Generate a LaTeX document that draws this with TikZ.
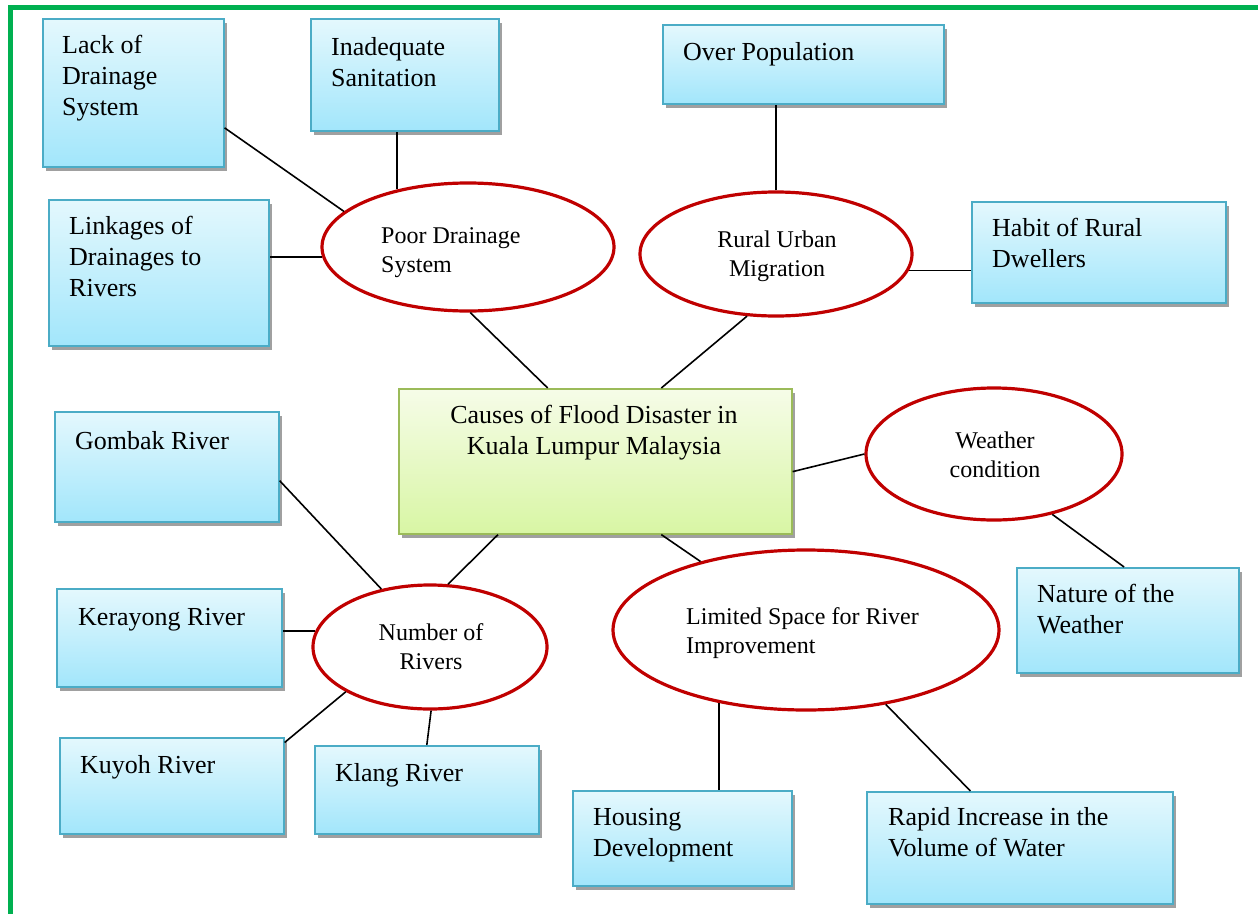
\documentclass[tikz,border=0pt]{standalone}
\usepackage{fontspec}
\setmainfont{Liberation Serif}
\usetikzlibrary{shapes.geometric,shadows,calc}
\definecolor{frameg}{HTML}{00B050}
\definecolor{boxline}{HTML}{4BACC6}
\definecolor{boxtop}{HTML}{E4F8FD}
\definecolor{boxbot}{HTML}{A2E6FB}
\definecolor{ctop}{HTML}{F6FCE8}
\definecolor{cbot}{HTML}{D8F6A4}
\definecolor{cline}{HTML}{9BBB59}
\definecolor{shadowgray}{HTML}{A0A0A0}
\definecolor{ellred}{HTML}{C00000}
\begin{document}
\begin{tikzpicture}[x=1pt,y=-1pt,
  box/.style={rectangle, draw=boxline, line width=1.6pt, top color=boxtop, bottom color=boxbot,
    inner sep=0pt, anchor=north west,
    drop shadow={shadow xshift=3pt, shadow yshift=-4pt, fill=shadowgray, opacity=1}},
  cbox/.style={box, draw=cline, top color=ctop, bottom color=cbot},
  btext/.style={anchor=base west, align=left, inner sep=0pt, font=\fontsize{26}{31}\selectfont},
  ctext/.style={anchor=base, align=center, inner sep=0pt, font=\fontsize{26}{31}\selectfont},
  ell/.style={ellipse, draw=ellred, line width=3.2pt, fill=white, inner sep=0pt},
  etext/.style={anchor=base west, align=left, inner sep=0pt, font=\fontsize{24}{29}\selectfont},
  ectext/.style={anchor=base, align=center, inner sep=0pt, font=\fontsize{24}{29}\selectfont},
  conn/.style={draw=black, line width=1.6pt}
]
\useasboundingbox (0,0) rectangle (1258,913);
\fill[white] (0,0) rectangle (1258,913);
\draw[frameg, line width=5pt] (10,7.5) rectangle (1260,960);

% boxes (text nodes anchored at the baseline of their last line)
\node[box, minimum width=181pt, minimum height=148pt] (b1) at (42,18) {};
\node[btext] (t1) at (62,115) {Lack of\\Drainage\\System};
\node[box, minimum width=188pt, minimum height=112pt] (b2) at (310,18) {};
\node[btext] (t2) at (331,86) {Inadequate\\Sanitation};
\node[box, minimum width=281pt, minimum height=79pt] (b3) at (662,24) {};
\node[btext] (t3) at (683,60) {Over Population};
\node[box, minimum width=220pt, minimum height=146pt] (b4) at (48,199) {};
\node[btext] (t4) at (69,296) {Linkages of\\Drainages to\\Rivers};
\node[box, minimum width=254pt, minimum height=101pt] (b5) at (971,201) {};
\node[btext] (t5) at (992,267) {Habit of Rural\\Dwellers};
\node[cbox, minimum width=393pt, minimum height=145pt] (b6) at (398,388) {};
\node[ctext] (t6) at (594,454) {Causes of Flood Disaster in\\Kuala Lumpur Malaysia};
\node[box, minimum width=224pt, minimum height=110pt] (b7) at (54,411) {};
\node[btext] (t7) at (75,449) {Gombak River};
\node[box, minimum width=225pt, minimum height=98pt] (b8) at (56,588) {};
\node[btext] (t8) at (78,625) {Kerayong River};
\node[box, minimum width=224pt, minimum height=96pt] (b9) at (59,737) {};
\node[btext] (t9) at (80,773) {Kuyoh River};
\node[box, minimum width=224pt, minimum height=88pt] (b10) at (314,745) {};
\node[btext] (t10) at (335,781) {Klang River};
\node[box, minimum width=222pt, minimum height=105pt] (b11) at (1016,567) {};
\node[btext] (t11) at (1037,633) {Nature of the\\Weather};
\node[box, minimum width=219pt, minimum height=95pt] (b12) at (572,790) {};
\node[btext] (t12) at (593,856) {Housing\\Development};
\node[box, minimum width=306pt, minimum height=112pt] (b13) at (866,791) {};
\node[btext] (t13) at (888,856) {Rapid Increase in the\\Volume of Water};

% ellipses
\node[ell, minimum width=292pt, minimum height=128pt] (e1) at (468,247) {};
\node[etext] (s1) at (381,272) {Poor Drainage\\System};
\node[ell, minimum width=272pt, minimum height=124pt] (e2) at (776,254) {};
\node[ectext] (s2) at (777,276) {Rural Urban\\Migration};
\node[ell, minimum width=256pt, minimum height=132pt] (e3) at (994,454) {};
\node[ectext] (s3) at (995,477) {Weather\\condition};
\node[ell, minimum width=234pt, minimum height=124pt] (e4) at (430,647) {};
\node[ectext] (s4) at (431,669) {Number of\\Rivers};
\node[ell, minimum width=386pt, minimum height=160pt] (e5) at (806,630) {};
\node[etext] (s5) at (686,653) {Limited Space for River\\Improvement};

% connectors
\draw[conn] (b1.-21) -- (e1.164);
\draw[conn] (e1.141) -- (e1.141 |- b2.south);
\draw[conn] (e1.184) -- (e1.184 -| b4.east);
\draw[conn] (e1.-88) -- (b6.123);
\draw[conn] (e2.90) -- (e2.90 |- b3.south);
\draw[conn] (e2.-7) -- (e2.-7 -| b5.west);
\draw[conn] (e2.245) -- (b6.48);
\draw[conn] (b6.-3) -- (e3.180);
\draw[conn] (e3.-46) -- (b11.94);
\draw[conn] (b6.217) -- (e4.74);
\draw[conn] (b7.-7) -- (e4.130);
\draw[conn] (e4.172) -- (e4.172 -| b8.east);
\draw[conn] (e4.208) -- (b9.21);
\draw[conn] (e4.-89) -- (b10.90);
\draw[conn] (b6.-48) -- (e5.147);
\draw[conn] (e5.220) -- (e5.220 |- b12.north);
\draw[conn] (e5.-43) -- (b13.131);
\end{tikzpicture}
\end{document}
